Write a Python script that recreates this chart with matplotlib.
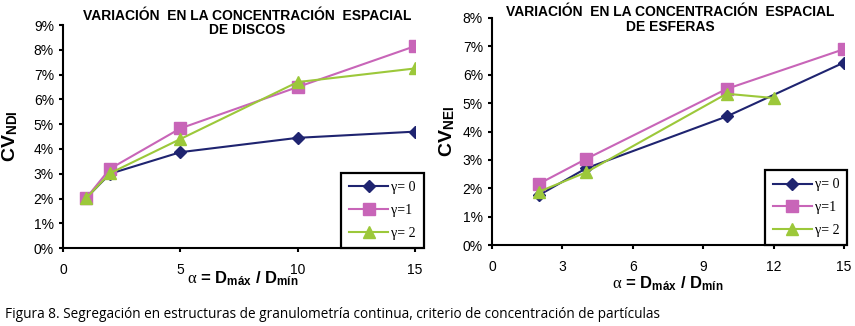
import matplotlib
matplotlib.use("Agg")
import matplotlib.pyplot as plt
from matplotlib.ticker import PercentFormatter

plt.rcParams['font.family'] = ['Liberation Sans', 'DejaVu Sans']
plt.rcParams['mathtext.fontset'] = 'custom'
plt.rcParams['mathtext.bf'] = 'Liberation Sans:bold'
plt.rcParams['mathtext.rm'] = 'Liberation Serif'
plt.rcParams['mathtext.it'] = 'Liberation Serif:italic'

# discos
x_disc = [1, 2, 5, 10, 15]
disc_g0 = [2.03, 3.0, 3.87, 4.45, 4.7]
disc_g1 = [2.03, 3.2, 4.83, 6.5, 8.15]
disc_g2 = [2.03, 3.02, 4.4, 6.7, 7.25]

# esferas
x_esf = [2, 4, 10, 15]
x_esf_g2 = [2, 4, 10, 12]
esf_g0 = [1.76, 2.7, 4.53, 6.43]
esf_g1 = [2.16, 3.03, 5.5, 6.9]
esf_g2 = [1.88, 2.56, 5.33, 5.18]

labels = [u"\u03b3= 0", u"\u03b3=1", u"\u03b3= 2"]
colors = ["#1f2470", "#c865b8", "#9cc83a"]
markers = ["D", "s", "^"]
msizes = [6, 8, 8]

fig = plt.figure(figsize=(8.55, 3.26), dpi=100)
ax1 = fig.add_axes([0.0737, 0.239, 0.4116, 0.684])
ax2 = fig.add_axes([0.5754, 0.248, 0.4117, 0.697])

def draw(ax, xs, ys, ymax, xticks, ylab, anchor, ylx):
    for i in range(3):
        ax.plot(xs[i], ys[i], color=colors[i], marker=markers[i], markersize=msizes[i],
                linewidth=1.5, label=labels[i])
    ax.set_xlim(0, 15)
    ax.set_ylim(0, ymax)
    ax.set_xticks(xticks)
    ax.set_yticks(range(0, ymax + 1))
    ax.yaxis.set_major_formatter(PercentFormatter(decimals=0))
    ax.spines['top'].set_visible(False)
    ax.spines['right'].set_visible(False)
    ax.spines['left'].set_linewidth(1.5)
    ax.spines['bottom'].set_linewidth(1.5)
    ax.tick_params(labelsize=10, length=3, width=1.5, color="black")
    ax.tick_params(axis='x', pad=8)
    ax.set_ylabel(ylab, fontsize=14)
    ax.yaxis.set_label_coords(ylx, 0.5)
    leg = ax.legend(loc="lower right", bbox_to_anchor=anchor,
                    prop={'family': 'Liberation Serif', 'size': 10},
                    fancybox=False, framealpha=1, handlelength=2.8, borderpad=0.6,
                    labelspacing=0.7, handletextpad=0.2, borderaxespad=0.0)
    leg.get_frame().set_edgecolor("black")
    leg.get_frame().set_linewidth(1.6)

draw(ax1, [x_disc] * 3, [disc_g0, disc_g1, disc_g2], 9, [0, 5, 10, 15],
     r"$\mathbf{CV}_{\mathbf{NDI}}$", (1.025, 0.0), -0.122)
draw(ax2, [x_esf, x_esf, x_esf_g2], [esf_g0, esf_g1, esf_g2], 8, [0, 3, 6, 9, 12, 15],
     r"$\mathbf{CV}_{\mathbf{NEI}}$", (1.01, 0.0), -0.098)

fig.text(0.289, 0.93, u"VARIACIÓN  EN LA CONCENTRACIÓN  ESPACIAL\nDE DISCOS",
         ha="center", va="center", fontsize=10, fontweight="bold", linespacing=1.05)
fig.text(0.784, 0.94, u"VARIACIÓN  EN LA CONCENTRACIÓN  ESPACIAL\nDE ESFERAS",
         ha="center", va="center", fontsize=10, fontweight="bold", linespacing=1.05)

xl = u"$\\mathrm{\\alpha}$ = D$_{\\mathbf{máx}}$ / D$_{\\mathbf{mín}}$"
fig.text(0.284, 0.145, xl, ha="center", va="center", fontsize=12, fontweight="bold")
fig.text(0.781, 0.130, xl, ha="center", va="center", fontsize=12, fontweight="bold")

fig.text(0.006, 0.035, u"Figura 8. Segregación en estructuras de granulometría continua, criterio de concentración de partículas",
         ha="left", va="center", fontsize=9.8, family="Open Sans")

fig.savefig("out.png", dpi=100)
